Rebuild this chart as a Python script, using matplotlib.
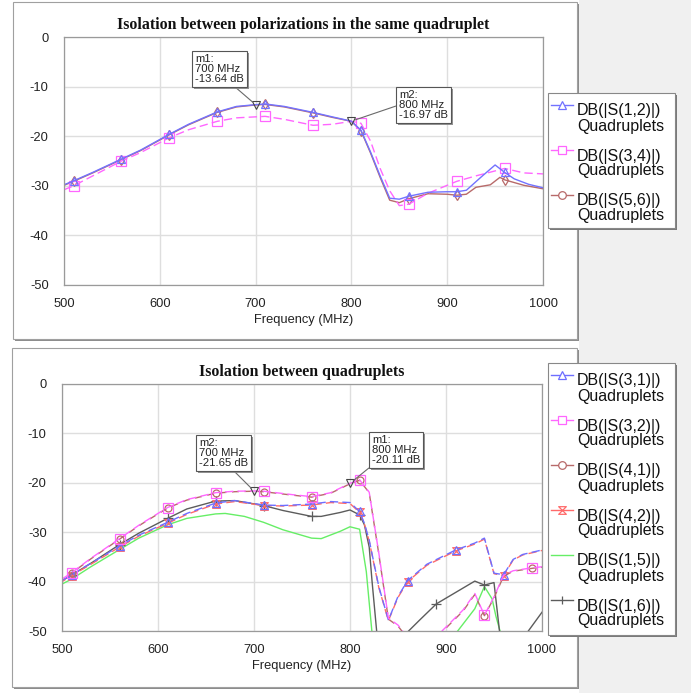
import numpy as np
import matplotlib
matplotlib.use("Agg")
import matplotlib.pyplot as plt
from matplotlib.patches import Rectangle
from matplotlib.lines import Line2D
from matplotlib.path import Path
import matplotlib.patheffects as pe

plt.rcParams['font.family'] = ['Liberation Sans', 'DejaVu Sans']
plt.rcParams['axes.unicode_minus'] = False

W, H = 691, 693  # figure size in pixels

# ---------------- data: top chart (polarizations in the same quadruplet) ----------------
f12 = [500, 510, 530, 560, 580, 610, 630, 660, 680, 700, 710, 730, 760, 780, 800, 810,
       820, 830, 840, 850, 860, 880, 900, 910, 920, 935, 950, 960, 970, 985, 1000]
s12 = [-29.8, -29.0, -27.3, -24.6, -22.8, -19.6, -17.6, -15.1, -14.0, -13.64, -13.5, -14.0,
       -15.2, -16.1, -16.97, -18.8, -23.2, -28.0, -32.5, -32.7, -32.1, -31.3, -31.2, -31.2,
       -30.9, -28.3, -25.8, -27.3, -28.6, -29.7, -30.4]

f34 = [500, 510, 530, 560, 580, 610, 630, 660, 680, 710, 730, 760, 780, 800, 810, 820,
       830, 840, 850, 860, 880, 910, 930, 960, 980, 1000]
s34 = [-30.8, -30.0, -28.0, -25.0, -23.3, -20.3, -18.7, -17.0, -16.3, -16.0, -16.6, -17.8,
       -17.6, -17.0, -17.4, -21.0, -26.5, -31.0, -34.0, -33.7, -31.5, -29.1, -28.0, -26.5,
       -27.4, -27.6]

f56 = [500, 510, 530, 560, 580, 610, 630, 660, 680, 700, 710, 730, 760, 780, 800, 810,
       820, 830, 840, 850, 860, 880, 900, 910, 920, 930, 945, 955, 960, 980, 1000]
s56 = [-29.9, -29.1, -27.4, -24.7, -22.9, -19.7, -17.7, -15.2, -14.1, -13.7, -13.6, -14.1,
       -15.3, -16.2, -17.0, -18.9, -23.4, -28.3, -32.9, -33.4, -32.6, -31.6, -31.7, -31.9,
       -31.7, -30.3, -29.8, -28.3, -28.8, -29.9, -30.6]

top_marks = [510, 560, 610, 660, 710, 760, 810, 860, 910, 960]

# ---------------- data: bottom chart (between quadruplets) ----------------
f31 = [500, 510, 530, 560, 580, 610, 630, 660, 680, 710, 730, 760, 780, 800, 810, 815,
       820, 830, 840, 850, 860, 880, 910, 930, 940, 950, 960, 970, 980, 1000]
s31 = [-39.8, -38.6, -36.3, -32.8, -30.6, -28.0, -26.2, -24.1, -23.6, -24.5, -24.6, -24.3,
       -23.8, -24.0, -25.8, -28.2, -31.6, -41.0, -47.8, -43.0, -39.8, -36.5, -33.6, -32.2,
       -31.2, -38.3, -38.6, -35.5, -34.5, -33.6]
f42 = f31
s42 = [-40.0, -38.8, -36.5, -33.0, -30.8, -28.2, -26.4, -24.3, -23.8, -24.6, -24.7, -24.5,
       -24.0, -24.2, -26.0, -28.4, -31.8, -41.2, -47.9, -43.2, -40.0, -36.7, -33.8, -32.4,
       -31.4, -38.4, -38.8, -35.6, -34.6, -33.7]
marks31 = [510, 560, 610, 660, 710, 760, 810, 860, 910, 960]

f32 = [500, 510, 530, 560, 580, 610, 630, 660, 680, 700, 710, 740, 760, 780, 800, 810,
       820, 830, 840, 850, 856, 880, 900, 918, 930, 940, 950, 960, 970, 990, 1000]
s32 = [-39.5, -38.2, -35.3, -31.3, -28.6, -25.0, -23.4, -22.0, -21.7, -21.65, -21.7, -22.4,
       -22.8, -22.0, -20.11, -19.4, -21.9, -34.2, -47.4, -48.8, -50.3, -53.0, -49.2, -45.7,
       -42.4, -46.8, -43.1, -38.7, -37.8, -37.2, -37.0]
f41 = f32
s41 = [-39.6, -38.3, -35.4, -31.4, -28.7, -25.1, -23.5, -22.1, -21.8, -21.7, -21.8, -22.5,
       -22.9, -22.1, -20.2, -19.5, -22.0, -34.4, -47.6, -49.0, -50.5, -53.2, -49.4, -45.9,
       -42.6, -46.9, -43.3, -38.9, -37.9, -37.3, -37.1]
marks32 = [510, 560, 610, 660, 710, 760, 810, 940, 990]

f15 = [500, 510, 530, 560, 580, 610, 630, 660, 670, 690, 710, 730, 760, 770, 790, 800,
       810, 817, 823, 830, 905, 911, 930, 940, 948, 952, 957]
s15 = [-40.5, -39.5, -37.0, -33.5, -31.2, -28.5, -27.2, -26.3, -26.2, -26.8, -28.0, -29.5,
       -31.2, -31.3, -29.8, -28.9, -29.4, -38.0, -50.5, -58.0, -58.0, -50.3, -45.5, -41.0,
       -43.5, -47.0, -50.5]

f16 = [500, 510, 530, 560, 580, 610, 630, 660, 680, 710, 730, 760, 770, 790, 800, 810,
       815, 820, 823, 828, 840, 860, 873, 890, 930, 940, 950, 956, 970, 985, 1000]
s16 = [-39.8, -38.7, -36.3, -32.5, -30.2, -27.2, -25.3, -23.7, -23.6, -24.6, -25.6, -26.8,
       -26.8, -26.0, -25.5, -26.5, -28.5, -33.0, -40.0, -50.5, -58.0, -50.2, -47.7, -44.5,
       -39.9, -40.7, -40.2, -50.5, -58.0, -50.2, -46.2]
marks16 = [510, 560, 610, 660, 710, 760, 810, 890, 940]

legend_label = "DB(|S({})|)"
legend_sub = "Quadruplets"


def fig_xy(x, y):
    # pixel from top-left -> figure fraction
    return x / W, 1 - y / H


hourglass = Path([(-1, 1), (1, 1), (-1, -1), (1, -1), (-1, 1)],
                 [Path.MOVETO, Path.LINETO, Path.LINETO, Path.LINETO, Path.CLOSEPOLY])

fig = plt.figure(figsize=(W / 100, H / 100), dpi=100)
fig.patch.set_facecolor('white')

# grey area on the right
fig.add_artist(Rectangle(fig_xy(579, H), (W - 579) / W, 1, transform=fig.transFigure,
                         fc='#f0f0f0', ec='none', zorder=-3))


def panel(x0, y0, x1, y1):
    fig.add_artist(Rectangle(fig_xy(x0 + 2, y1 + 2), (x1 - x0) / W, (y1 - y0) / H,
                             transform=fig.transFigure, fc='#8c8c8c', ec='none', zorder=-2))
    fig.add_artist(Rectangle(fig_xy(x0, y1), (x1 - x0) / W, (y1 - y0) / H,
                             transform=fig.transFigure, fc='white', ec='#a0a0a0', lw=0.8,
                             zorder=-1))


panel(13, 2, 577, 339)
panel(12, 348, 577, 687)


def setup(ax, title, tx, ty):
    ax.set_xlim(500, 1000)
    ax.set_ylim(-50, 0)
    ax.set_xticks(np.arange(500, 1001, 100))
    ax.set_yticks(np.arange(-50, 1, 10))
    ax.grid(True, color='#dedede', lw=1.0)
    ax.set_axisbelow(True)
    for s in ax.spines.values():
        s.set_color('#9a9a9a')
        s.set_linewidth(0.9)
    ax.tick_params(length=0, labelsize=9.3, labelcolor='#222222')
    ax.tick_params(axis='y', pad=11)
    ax.tick_params(axis='x', pad=9.5)
    ax.set_xlabel('Frequency (MHz)', fontsize=9.3, color='#222222', labelpad=2.5)
    fx, fy = fig_xy(tx, ty)
    fig.text(fx, fy, title, ha='center', va='center', fontsize=11.4, fontweight='bold',
             family=['Liberation Serif', 'DejaVu Serif'], color='#111111')


def trace(ax, f, s, color, ls, marker, marks, ms=6):
    f = np.asarray(f)
    ax.plot(f, s, color=color, ls=ls, lw=1.0, marker=marker, ms=ms, mfc='none', mec=color,
            mew=0.9, markevery=list(np.where(np.isin(f, marks))[0]))


def callout(ax, name, fx, fy, tpos, relpos):
    ax.plot([fx], [fy], marker='v', ms=6, mfc='none', mec='#444444', mew=0.8, ls='none',
            zorder=5)
    ann = ax.annotate(f"{name}:\n{fx} MHz\n{fy:.2f} dB", xy=(fx, fy), xytext=tpos,
                      textcoords='figure pixels', ha='left', va='top', fontsize=8.1,
                      color='#222222', linespacing=1.0,
                      bbox=dict(boxstyle='square,pad=0.25', fc='white', ec='#555555', lw=0.8),
                      arrowprops=dict(arrowstyle='-', color='#6a6a6a', lw=0.8,
                                      relpos=relpos, shrinkA=0, shrinkB=3),
                      zorder=6)
    ann.get_bbox_patch().set_path_effects([pe.SimplePatchShadow(offset=(1.5, -1.5),
                                                                shadow_rgbFace='#888888',
                                                                alpha=0.9), pe.Normal()])


def legend(x0, y0, x1, y1, entries):
    fig.add_artist(Rectangle(fig_xy(x0 + 2, y1 + 2), (x1 - x0) / W, (y1 - y0) / H,
                             transform=fig.transFigure, fc='#7a7a7a', ec='none', zorder=4))
    fig.add_artist(Rectangle(fig_xy(x0, y1), (x1 - x0) / W, (y1 - y0) / H,
                             transform=fig.transFigure, fc='white', ec='#888888', lw=0.8,
                             zorder=5))
    for i, (lab, color, marker) in enumerate(entries):
        yt = y0 + 45 * i
        lx0, ly = fig_xy(551, yt + 12)
        lx1, _ = fig_xy(573, yt + 12)
        fig.add_artist(Line2D([lx0, lx1], [ly, ly], transform=fig.transFigure, color=color,
                              lw=1.0, zorder=6))
        if marker is not None:
            mx, _ = fig_xy(562, yt + 12)
            fig.add_artist(Line2D([mx], [ly], transform=fig.transFigure, color=color,
                                  marker=marker, ms=5.5, mfc='white', mec=color, mew=0.9,
                                  zorder=7))
        tx, ty = fig_xy(577, yt + 22.5)
        fig.text(tx, ty, legend_label.format(lab), ha='left', va='baseline', fontsize=11.5,
                 color='#111111', zorder=7)
        tx, ty = fig_xy(577, yt + 37.5)
        fig.text(tx, ty, legend_sub, ha='left', va='baseline', fontsize=11.5,
                 color='#111111', zorder=7)


# ---------------- top chart ----------------
ax1 = fig.add_axes([64 / W, 1 - 285 / H, 479 / W, 248 / H])
setup(ax1, 'Isolation between polarizations in the same quadruplet', 303.5, 25)
c12, c34, c56 = '#7272ff', '#ff66ff', '#b86a6a'
trace(ax1, f56, s56, c56, '-', 'd', top_marks, ms=5.5)
trace(ax1, f34, s34, c34, (0, (6, 3)), 's', top_marks, ms=7)
trace(ax1, f12, s12, c12, '-', '^', top_marks)
callout(ax1, 'm1', 700, -13.64, (195, H - 54), (0.75, 0.0))
callout(ax1, 'm2', 800, -16.97, (399, H - 90), (0.0, 0.5))
legend(548, 93, 675, 228, [('1,2', c12, '^'), ('3,4', c34, 's'), ('5,6', c56, 'o')])

# ---------------- bottom chart ----------------
ax2 = fig.add_axes([62 / W, 1 - 631 / H, 480 / W, 247 / H])
setup(ax2, 'Isolation between quadruplets', 302, 372)
c31, c32, c41, c42, c15, c16 = '#6e6eff', '#ff66ff', '#b86a6a', '#ff6a6a', '#66ee66', '#5c5c5c'
trace(ax2, f15, s15, c15, '-', None, [])
trace(ax2, f16, s16, c16, '-', '+', marks16, ms=7)
trace(ax2, f42, s42, c42, (3, (6, 3)), hourglass, marks31, ms=5.5)
trace(ax2, f31, s31, c31, (0, (6, 3)), '^', marks31)
trace(ax2, f41, s41, c41, (4, (5, 4)), 'o', marks32, ms=5)
trace(ax2, f32, s32, c32, (0, (6, 3)), 's', marks32, ms=7)
callout(ax2, 'm2', 700, -21.65, (199, H - 438), (0.65, 0.0))
callout(ax2, 'm1', 800, -20.11, (372, H - 435), (0.05, 0.05))
legend(548, 363, 675, 635, [('3,1', c31, '^'), ('3,2', c32, 's'), ('4,1', c41, 'o'),
                            ('4,2', c42, hourglass), ('1,5', c15, None), ('1,6', c16, '|')])

fig.savefig('out.png', dpi=100)
